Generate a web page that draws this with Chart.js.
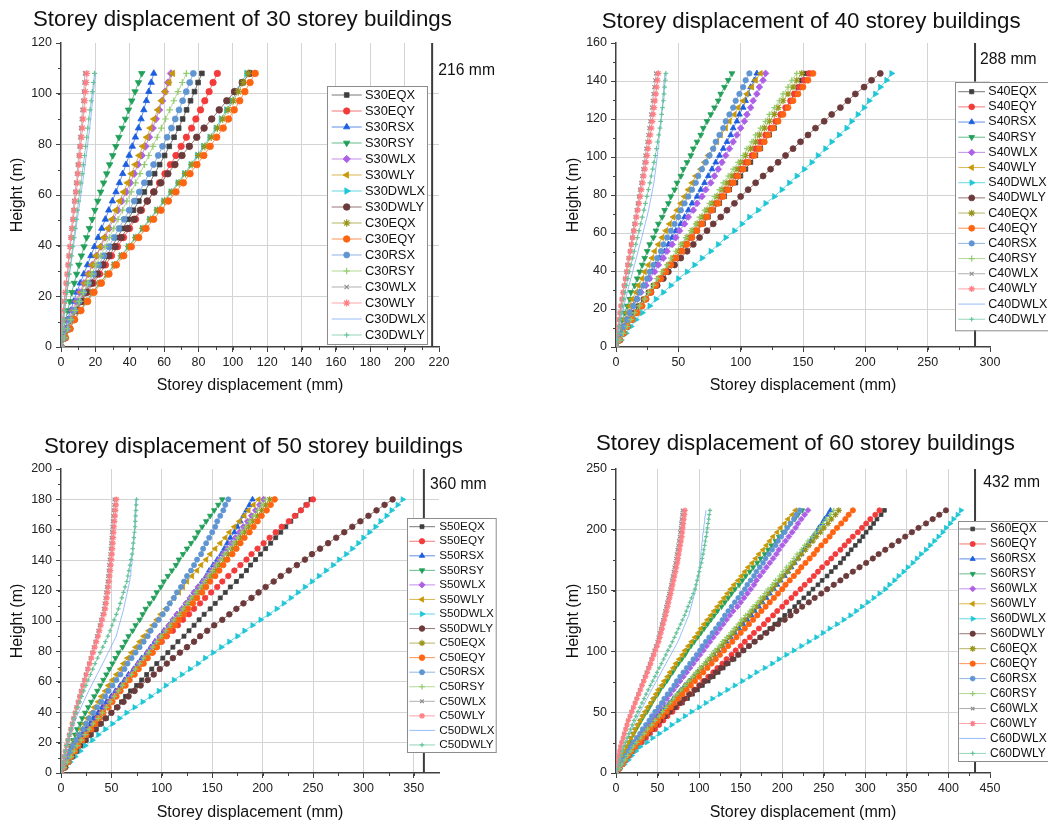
<!DOCTYPE html>
<html>
<head>
<meta charset="utf-8">
<script src="https://cdn.jsdelivr.net/npm/chart.js@4.4.1/dist/chart.umd.min.js"></script>
<style>
  html, body { margin: 0; padding: 0; background: #fff; }
  #wrap { position: relative; width: 1048px; height: 827px; overflow: hidden; }
  canvas { position: absolute; }
</style>
</head>
<body>
<div id="wrap">
  <canvas id="c30" width="524" height="410" style="left:0;top:0"></canvas>
  <canvas id="c40" width="524" height="410" style="left:524px;top:0"></canvas>
  <canvas id="c50" width="524" height="417" style="left:0;top:410px"></canvas>
  <canvas id="c60" width="524" height="417" style="left:524px;top:410px"></canvas>
</div>
<script>
// ---- data: storey heights (m) and storey displacements (mm) ----
const names30 = ['S30EQX','S30EQY','S30RSX','S30RSY','S30WLX','S30WLY','S30DWLX','S30DWLY','C30EQX','C30EQY','C30RSX','C30RSY','C30WLX','C30WLY','C30DWLX','C30DWLY'];
const names40 = ['S40EQX','S40EQY','S40RSX','S40RSY','S40WLX','S40WLY','S40DWLX','S40DWLY','C40EQX','C40EQY','C40RSX','C40RSY','C40WLX','C40WLY','C40DWLX','C40DWLY'];
const names50 = ['S50EQX','S50EQY','S50RSX','S50RSY','S50WLX','S50WLY','S50DWLX','S50DWLY','C50EQX','C50EQY','C50RSX','C50RSY','C50WLX','C50WLY','C50DWLX','C50DWLY'];
const names60 = ['S60EQX','S60EQY','S60RSX','S60RSY','S60WLX','S60WLY','S60DWLX','S60DWLY','C60EQX','C60EQY','C60RSX','C60RSY','C60WLX','C60WLY','C60DWLX','C60DWLY'];

// allowable drift limit (H/500) in mm
const limits = [216, 288, 360, 432];

const heights30 = [0,3.6,7.2,10.8,14.4,18,21.6,25.2,28.8,32.4,36,39.6,43.2,46.8,50.4,54,57.6,61.2,64.8,68.4,72,75.6,79.2,82.8,86.4,90,93.6,97.2,100.8,104.4,108];
const heights40 = [0,3.6,7.2,10.8,14.4,18,21.6,25.2,28.8,32.4,36,39.6,43.2,46.8,50.4,54,57.6,61.2,64.8,68.4,72,75.6,79.2,82.8,86.4,90,93.6,97.2,100.8,104.4,108,111.6,115.2,118.8,122.4,126,129.6,133.2,136.8,140.4,144];
const heights50 = [0,3.6,7.2,10.8,14.4,18,21.6,25.2,28.8,32.4,36,39.6,43.2,46.8,50.4,54,57.6,61.2,64.8,68.4,72,75.6,79.2,82.8,86.4,90,93.6,97.2,100.8,104.4,108,111.6,115.2,118.8,122.4,126,129.6,133.2,136.8,140.4,144,147.6,151.2,154.8,158.4,162,165.6,169.2,172.8,176.4,180];
const heights60 = [0,3.6,7.2,10.8,14.4,18,21.6,25.2,28.8,32.4,36,39.6,43.2,46.8,50.4,54,57.6,61.2,64.8,68.4,72,75.6,79.2,82.8,86.4,90,93.6,97.2,100.8,104.4,108,111.6,115.2,118.8,122.4,126,129.6,133.2,136.8,140.4,144,147.6,151.2,154.8,158.4,162,165.6,169.2,172.8,176.4,180,183.6,187.2,190.8,194.4,198,201.6,205.2,208.8,212.4,216];

// major tick labels of each axis
const xTicks30 = [0,20,40,60,80,100,120,140,160,180,200,220];
const yTicks30 = [0,20,40,60,80,100,120];
const xTicks40 = [0,50,100,150,200,250,300];
const yTicks40 = [0,20,40,60,80,100,120,140,160];
const xTicks50 = [0,50,100,150,200,250,300,350];
const yTicks50 = [0,20,40,60,80,100,120,140,160,180,200];
const xTicks60 = [0,50,100,150,200,250,300,350,400,450];
const yTicks60 = [0,50,100,150,200,250];

const disp30 = [
  [0,1.9,3.9,5.7,8.4,11.2,13.9,17.1,20.3,23.4,26.5,29.7,32.8,35.9,39.1,42.2,45.3,48.5,51.7,54.5,57.4,60.3,63,65.8,68.5,70.8,73.1,75.4,77.7,79.8,82],
  [0,2.1,4.3,6.4,9.4,12.5,15.5,18.9,22.5,25.9,29.4,32.9,36.4,39.9,43.4,46.9,50.3,53.9,57.3,60.5,63.7,66.9,69.9,73,76,78.5,81.2,83.7,86.2,88.5,91],
  [0,1.2,2.5,3.8,5.6,7.4,9.2,11.2,13.3,15.4,17.4,19.5,21.6,23.7,25.8,27.8,29.9,32,34,35.9,37.8,39.7,41.5,43.3,45.1,46.6,48.2,49.7,51.1,52.5,54],
  [0,0.9,1.7,2.6,3.9,5.1,6.3,7.7,9.1,10.4,11.9,13.4,14.9,16.5,18.1,19.7,21.4,23.1,24.8,26.6,28.3,30.1,31.9,33.7,35.6,37.5,39.3,41.2,43.1,45.1,47],
  [0,1.5,3,4.5,6.6,8.8,10.9,13.3,15.8,18.2,20.7,23.2,25.6,28,30.5,33,35.4,37.9,40.3,42.6,44.8,47,49.2,51.3,53.4,55.2,57.1,58.9,60.6,62.3,64],
  [0,1.8,3.4,5.2,7.3,9.6,11.7,13.8,16.1,18.2,20.5,22.8,25,27.3,29.6,31.9,34.1,36.4,38.7,41,43.2,45.5,47.6,49.9,52,54.1,56.4,58.5,60.6,62.9,65],
  [0,2.5,5.1,7.6,11.1,14.8,18.4,22.5,26.7,30.8,34.9,39.1,43.2,47.3,51.5,55.6,59.7,63.9,68,71.8,75.6,79.4,82.9,86.6,90.2,93.2,96.3,99.4,102.3,105.1,108],
  [0,2.1,4.1,6.2,9,11.9,14.7,17.9,21.2,24.4,27.9,31.5,35,38.7,42.5,46.2,50.2,54.1,58.1,62.2,66.3,70.4,74.7,79,83.3,87.7,92.1,96.5,101,105.5,110],
  [0,2.5,5.1,7.6,11.2,14.9,18.5,22.7,26.9,31.1,35.2,39.5,43.6,47.7,52,56.1,60.3,64.5,68.7,72.5,76.3,80.1,83.7,87.4,91,94.1,97.2,100.3,103.2,106.1,109],
  [0,2.6,5.3,7.9,11.6,15.5,19.2,23.5,27.9,32.2,36.5,40.9,45.2,49.5,53.9,58.2,62.5,66.9,71.2,75.1,79.1,83.1,86.8,90.6,94.4,97.5,100.8,104,107,110,113],
  [0,1.8,3.6,5.4,7.9,10.5,13.1,16,19,21.9,24.9,27.9,30.8,33.7,36.7,39.7,42.6,45.6,48.5,51.2,53.9,56.6,59.1,61.8,64.3,66.5,68.7,70.8,72.9,74.9,77],
  [0,2,3.9,5.8,8.2,10.7,13.1,15.5,18,20.4,23,25.6,28.1,30.7,33.2,35.8,38.3,40.9,43.4,46,48.5,51.1,53.5,56,58.4,60.8,63.3,65.7,68.1,70.6,73],
  [0,0.3,0.7,1,1.4,1.9,2.4,2.9,3.5,4,4.5,5.1,5.6,6.1,6.7,7.2,7.7,8.3,8.8,9.3,9.8,10.3,10.8,11.2,11.7,12.1,12.5,12.9,13.3,13.6,14],
  [0,0.3,0.7,1.1,1.5,2.1,2.6,3.1,3.7,4.3,4.8,5.4,6,6.6,7.2,7.7,8.3,8.9,9.5,10,10.5,11,11.5,12,12.5,12.9,13.4,13.8,14.2,14.6,15],
  [0,0.5,0.9,1.4,2.1,2.7,3.4,4.2,4.9,5.7,6.5,7.2,8,8.8,9.5,10.3,11.1,11.8,12.6,13.3,14,14.7,15.4,16,16.7,17.3,17.8,18.4,18.9,19.5,20],
  [0,0.5,1,1.6,2.2,2.9,3.5,4.2,4.8,5.5,6.1,6.8,7.5,8.2,8.9,9.6,10.2,10.9,11.6,12.3,13,13.7,14.3,15,15.6,16.2,16.9,17.6,18.2,18.9,19.5]
];

const disp40 = [
  [0,3,5,8,11,14,18,22,26,30,35,39,43,48,52,56,61,65,70,74,78,83,87,91,96,100,104,108,112,116,119,123,127,130,133,137,140,143,146,149,152],
  [0,3,6,9,12,16,20,24,28,32,36,40,43,47,52,56,60,64,68,72,76,80,84,88,92,96,100,104,109,112,116,120,124,128,132,136,140,143,147,151,155],
  [0,2,4,6,8,11,14,16,19,22,26,29,32,35,39,42,45,48,52,55,58,61,65,68,71,74,77,80,83,86,89,92,94,97,99,102,104,106,108,111,113],
  [0,1,3,4,5,7,9,11,12,15,17,19,21,23,25,27,30,32,34,37,39,42,44,47,49,52,54,57,60,62,65,68,70,73,76,79,82,84,87,90,93],
  [0,2,4,6,8,11,14,17,20,24,27,31,34,38,41,45,48,51,55,58,62,65,69,72,76,79,82,85,88,91,94,97,100,103,105,108,110,113,115,118,120],
  [0,2,3,5,7,9,11,13,16,18,21,23,26,29,31,34,37,40,43,46,49,52,55,58,61,64,68,71,74,78,81,84,88,91,95,98,102,105,109,112,116],
  [0,4,8,12,16,21,27,32,38,44,50,57,63,69,76,82,88,95,101,107,114,120,127,133,139,145,151,157,162,168,173,179,185,189,194,199,203,208,212,217,221],
  [0,3,6,9,12,16,20,24,28,33,38,42,47,52,57,62,67,73,78,84,89,95,100,106,112,118,124,130,136,142,148,154,160,167,173,180,186,192,199,205,212],
  [0,3,6,9,12,16,19,23,27,31,34,38,42,46,50,53,57,61,65,69,73,77,81,85,89,93,97,100,104,108,112,115,119,123,127,130,134,138,142,145,149],
  [0,3,6,9,13,17,21,24,28,32,36,40,44,48,53,57,61,65,69,73,77,82,86,90,94,98,102,106,111,115,119,122,126,130,134,138,142,146,150,154,158],
  [0,2,4,6,9,11,14,17,19,22,25,27,30,33,36,38,41,44,47,50,52,55,58,61,64,66,69,72,75,78,80,83,86,88,91,94,96,99,102,104,107],
  [0,3,6,9,12,15,19,23,26,30,33,37,41,44,48,52,56,60,64,67,71,75,79,83,86,90,94,98,102,105,109,112,116,120,123,127,131,134,138,141,145],
  [0,0.6,1.1,1.7,2.2,3,3.8,4.6,5.4,6.4,7.3,8.2,9.1,10,11,11.9,12.8,13.7,14.6,15.6,16.5,17.4,18.3,19.2,20.2,21,21.8,22.7,23.5,24.3,25.1,25.9,26.7,27.4,28.1,28.8,29.4,30.1,30.7,31.4,32],
  [0,0.6,1.2,1.8,2.4,3.2,4.1,4.9,5.8,6.8,7.7,8.7,9.7,10.7,11.6,12.6,13.6,14.6,15.6,16.5,17.5,18.5,19.5,20.4,21.4,22.3,23.2,24.1,25,25.8,26.7,27.5,28.4,29.1,29.8,30.6,31.3,32,32.6,33.3,34],
  [0,1,2,2.9,3.9,5.2,6.4,7.7,9,10.5,11.9,13.4,14.8,16.3,17.7,19.2,20.7,22,23.4,24.8,26.1,27.2,28.3,29.4,30.4,31.1,31.8,32.5,33.2,33.7,34.3,34.9,35.5,36,36.5,37,37.4,37.8,38.2,38.6,39],
  [0,0.8,1.6,2.4,3.2,4.2,5.2,6.2,7.2,8.4,9.6,10.8,12,13.3,14.6,15.9,17.2,18.5,19.8,21.1,22.4,23.6,24.8,26,27.2,28.3,29.4,30.5,31.6,32.5,33.4,34.3,35.2,35.9,36.6,37.3,38,38.5,39,39.5,40]
];

const disp50 = [
  [0,4,8,12,16,20,25,30,35,40,45,50,55,60,64,69,75,80,85,90,95,101,106,111,116,122,127,132,137,142,148,153,158,163,168,174,179,184,188,193,198,203,208,213,218,223,228,233,238,243,248],
  [0,3,6,9,11,14,18,22,26,30,34,38,42,47,51,56,60,65,70,75,80,85,90,95,100,105,111,116,121,127,132,138,143,149,155,160,166,172,178,184,189,195,201,207,213,219,226,232,238,244,250],
  [0,3,5,8,11,13,17,21,25,29,32,37,41,45,50,54,59,63,67,72,76,80,85,89,93,98,102,107,111,115,120,124,128,132,136,140,144,147,151,155,159,162,165,168,172,175,178,181,184,187,190],
  [0,2,4,5,7,9,12,14,16,19,21,24,27,30,33,36,39,42,45,48,51,54,57,61,64,67,71,74,78,81,84,88,92,95,99,102,106,110,114,117,121,125,129,133,136,140,144,148,152,156,160],
  [0,3,6,10,13,16,20,24,28,32,36,40,44,48,52,56,61,65,69,73,77,82,86,90,94,98,103,107,111,115,120,124,128,132,136,141,145,149,153,157,161,165,169,173,177,181,185,189,193,197,201],
  [0,2,4,7,9,11,14,17,20,23,26,30,33,37,40,44,47,51,55,59,62,66,70,74,78,82,87,91,95,99,104,108,112,117,121,125,130,135,139,144,148,153,158,163,167,172,177,182,186,191,196],
  [0,5,9,14,19,24,31,37,44,51,58,65,73,81,89,97,104,112,120,128,136,143,151,159,167,175,182,190,198,206,214,221,228,235,242,249,256,263,270,276,283,289,295,300,306,312,317,323,328,334,339],
  [0,4,7,11,15,18,24,29,34,39,44,50,56,62,67,73,79,86,92,98,105,111,118,125,132,138,145,152,160,167,174,181,189,196,203,211,218,226,234,242,249,257,265,273,281,289,297,305,313,321,329],
  [0,3,7,10,13,17,21,25,29,33,37,41,46,50,54,58,62,67,71,75,80,84,88,93,97,101,106,110,115,119,123,128,132,136,141,145,149,153,157,162,166,170,174,178,182,186,190,195,199,203,207],
  [0,3,7,10,14,17,21,25,30,34,38,42,47,51,55,59,64,68,73,77,82,86,91,95,99,104,108,113,117,122,126,131,135,140,144,148,153,157,161,165,170,174,178,182,187,191,195,199,204,208,212],
  [0,2,5,7,9,12,15,18,22,25,28,32,36,40,44,47,51,55,59,63,66,70,74,78,82,86,89,93,97,101,105,108,112,115,119,122,125,129,132,135,139,141,144,147,150,153,155,158,161,163,166],
  [0,3,6,10,13,16,20,24,28,32,37,41,45,49,53,57,61,65,70,74,78,82,87,91,95,99,104,108,112,117,121,125,129,134,138,142,146,150,154,158,162,166,171,175,179,183,187,191,195,199,203],
  [0,1.1,2.1,3.2,4.2,5.3,6.7,8.1,9.4,10.8,12.2,13.7,15.2,16.6,18.1,19.6,21.2,22.8,24.4,26,27.6,29.2,30.7,32.3,33.9,35.5,36.9,38.3,39.6,41,42.4,43.1,43.9,44.6,45.4,46.1,46.6,47.2,47.7,48.2,48.8,49.2,49.6,50,50.5,50.9,51.3,51.7,52.2,52.6,53],
  [0,1.1,2.2,3.3,4.4,5.5,6.9,8.4,9.8,11.2,12.7,14.2,15.7,17.3,18.8,20.4,22,23.7,25.3,27,28.6,30.3,31.9,33.6,35.2,36.9,38.3,39.7,41.1,42.6,44,44.8,45.5,46.3,47.1,47.9,48.4,49,49.5,50.1,50.6,51,51.5,51.9,52.4,52.8,53.2,53.7,54.1,54.6,55],
  [0,1.2,2.4,3.6,4.7,5.9,7.7,9.5,11.2,13,14.8,17.3,19.8,22.3,24.9,27.4,30.2,33,35.8,38.6,41.4,44.1,46.8,49.4,52.1,54.8,56.2,57.7,59.2,60.7,62.2,63.3,64.5,65.7,66.9,68.1,68.7,69.3,69.9,70.4,71,71.4,71.8,72.2,72.5,72.9,73.1,73.3,73.6,73.8,74],
  [0,1.1,2.1,3.2,4.2,5.3,6.8,8.3,9.8,11.3,12.8,14.7,16.7,18.6,20.6,22.5,24.8,27,29.3,31.5,33.8,36.3,38.9,41.4,44,46.5,48.6,50.7,52.8,54.9,57,58.7,60.3,62,63.6,65.3,66.3,67.4,68.4,69.5,70.5,71.1,71.7,72.3,72.9,73.5,73.8,74.1,74.4,74.7,75]
];

const disp60 = [
  [0,4,8,11,15,19,23,28,33,39,44,50,55,61,67,73,80,86,92,98,104,111,117,123,129,135,142,148,154,160,166,173,179,185,191,197,203,209,215,220,226,232,237,243,248,254,259,264,270,274,279,283,288,293,297,301,306,310,314,319,323],
  [0,4,8,13,17,21,25,31,36,41,47,52,57,62,68,73,78,83,89,94,100,105,111,117,122,128,133,139,144,150,155,161,166,172,178,183,189,194,200,205,211,216,222,227,233,238,243,248,254,259,264,270,275,280,285,291,296,301,306,312,317],
  [0,3,6,9,12,15,18,22,27,31,35,40,44,49,54,59,64,69,74,78,83,88,93,98,103,108,113,118,123,128,133,138,143,148,153,158,163,167,172,176,181,185,190,194,198,203,207,211,215,219,223,226,230,234,237,241,244,248,251,255,258],
  [0,2,4,6,8,10,13,16,18,21,24,27,30,33,37,40,43,46,50,53,57,61,64,68,71,75,79,83,86,90,94,98,102,106,110,114,118,122,127,131,135,139,143,148,152,156,161,165,170,174,179,183,187,192,196,201,206,210,215,219,224],
  [0,3,6,9,12,15,18,22,26,30,34,38,42,45,49,53,57,61,65,69,73,77,81,85,89,93,97,101,105,109,113,117,121,125,129,133,137,141,146,150,154,158,162,166,169,173,177,181,185,189,193,196,200,204,208,212,216,219,223,227,231],
  [0,2,4,6,8,10,12,15,18,21,23,26,29,32,35,38,42,45,48,51,55,58,62,65,69,72,76,80,83,87,91,95,99,102,106,110,114,118,122,126,130,134,138,142,147,151,155,159,164,168,172,177,181,185,189,194,198,203,207,212,216],
  [0,5,10,15,19,24,29,37,44,52,60,67,75,83,91,100,108,116,125,134,143,152,161,169,179,188,196,205,214,223,232,241,249,257,266,274,282,289,296,303,310,317,324,329,335,340,346,351,357,362,367,373,378,383,388,393,397,402,406,411,415],
  [0,4,7,11,15,19,22,27,33,38,43,48,53,59,65,71,77,82,88,95,101,107,114,120,126,133,140,147,153,160,167,174,181,188,195,203,210,217,224,232,239,247,254,262,270,277,285,293,301,309,316,324,332,340,348,356,364,373,381,389,397],
  [0,4,7,11,14,18,21,26,30,35,39,44,48,53,57,62,66,71,75,80,84,89,94,99,103,108,113,117,122,127,131,136,141,145,150,155,160,164,169,174,178,183,188,192,197,201,206,210,214,219,223,228,232,237,241,246,250,255,259,264,268],
  [0,4,8,11,15,19,23,28,32,37,42,47,51,56,61,66,70,75,80,85,90,95,100,105,110,115,120,125,130,135,140,145,150,155,160,165,170,175,180,185,190,195,200,204,209,214,219,223,228,233,238,242,247,252,257,261,266,271,276,280,285],
  [0,3,6,9,12,15,18,21,25,29,32,36,40,43,47,51,55,58,62,66,70,73,77,81,85,89,93,97,101,104,108,112,116,120,124,128,131,135,139,143,147,151,155,158,162,166,169,173,177,180,184,188,192,195,199,203,206,210,214,217,221],
  [0,4,7,11,14,18,21,25,30,34,38,43,47,52,56,60,65,69,73,78,83,87,92,96,101,106,110,115,119,124,128,133,138,142,147,151,156,161,165,170,174,179,183,188,192,197,201,205,210,214,218,223,227,231,236,240,245,249,253,258,262],
  [0,0.9,1.7,2.6,3.5,4.3,5.2,6.7,8.3,9.8,11.3,12.9,14.4,16.4,18.4,20.4,22.4,24.4,26.4,28.4,30.4,32.4,34.4,36.4,38.4,40.3,42.1,44,45.9,47.7,49.6,50.9,52.3,53.6,54.9,56.3,57.6,58.8,60,61.2,62.4,63.6,64.8,65.9,66.9,68,69.1,70.1,71.2,72.1,72.9,73.8,74.7,75.5,76.4,77,77.6,78.2,78.8,79.4,80],
  [0,0.9,1.8,2.7,3.6,4.5,5.4,7,8.6,10.2,11.8,13.3,14.9,17,19.1,21.2,23.2,25.3,27.4,29.5,31.5,33.6,35.7,37.8,39.8,41.8,43.7,45.7,47.6,49.5,51.5,52.8,54.2,55.6,57,58.4,59.8,61,62.3,63.5,64.7,66,67.2,68.3,69.4,70.6,71.7,72.8,73.9,74.8,75.7,76.6,77.5,78.4,79.3,79.9,80.5,81.1,81.8,82.4,83],
  [0,1.6,3.2,4.9,6.5,8.1,9.7,12.1,14.4,16.7,19.1,21.4,23.8,26.5,29.2,31.9,34.6,37.3,40,42.8,45.7,48.6,51.5,54.4,57.2,60.1,63,65.9,68.8,71.6,74.5,76.7,78.8,81,83.2,85.3,87.5,88.9,90.4,91.8,93.2,94.7,96.1,96.9,97.7,98.6,99.4,100.2,101,101.5,102.1,102.6,103.1,103.7,104.2,104.8,105.5,106.1,106.7,107.4,108],
  [0,1.5,3,4.5,6,7.5,9,11.1,13.2,15.3,17.3,19.4,21.5,23.9,26.4,28.8,31.3,33.7,36.2,38.8,41.4,44.1,46.7,49.3,52,54.6,57.3,59.9,62.5,65.2,67.8,70.3,72.7,75.1,77.6,80,82.5,84.6,86.6,88.7,90.8,92.9,94.9,96.2,97.6,98.9,100.2,101.5,102.8,103.8,104.7,105.7,106.6,107.5,108.5,109.2,110,110.7,111.5,112.2,113]
];

// ---- series styling (Origin-like palette) ----
const FONT = '"Liberation Sans", Arial, Helvetica, sans-serif';
const colors = ['#3f3f3f','#f23b3b','#1c5ee0','#22a05a','#ad5fe6','#c99806','#1fc6d6','#6c3a3a','#98951c','#ff6412','#5f95d3','#92cb6b','#8e8e8e','#ff7f86','#6f9ff5','#66c39b'];
const shapes = ['rect','circle','triangle','triangle','rectRot','triangle','triangle','circle','star','circle','circle','cross','crossRot','star','circle','cross'];
const rots   = [0,0,0,180,0,-90,90,0,0,0,0,0,0,0,0,0];
const radii  = [3.3,3.2,3.7,3.7,3.7,3.7,3.7,3.3,3.8,3.3,3.0,3.3,3.0,3.5,0,2.6];
const strokeOnly = [false,false,false,false,false,false,false,false,true,false,false,true,true,true,false,true];

function fade(hex, a) {
  const n = parseInt(hex.slice(1), 16);
  return `rgba(${(n >> 16) & 255},${(n >> 8) & 255},${n & 255},${a})`;
}

// draws title, minor ticks, drift-limit line with label and the Origin-style legend
const decor = {
  id: 'decor',
  afterDraw(chart, args, o) {
    const ctx = chart.ctx;
    const a = chart.chartArea;
    const xs = chart.scales.x, ys = chart.scales.y;
    ctx.save();

    // minor ticks
    ctx.strokeStyle = '#404040';
    ctx.lineWidth = 1;
    ctx.beginPath();
    for (let v = o.xMinor; v < xs.max - 0.01; v += o.xMinor) {
      const px = Math.round(xs.getPixelForValue(v)) + 0.5;
      ctx.moveTo(px, a.bottom); ctx.lineTo(px, a.bottom + 3);
    }
    for (let v = o.yMinor; v < ys.max - 0.01; v += o.yMinor) {
      const py = Math.round(ys.getPixelForValue(v)) + 0.5;
      ctx.moveTo(a.left, py); ctx.lineTo(a.left - 3, py);
    }
    ctx.stroke();

    // limit line
    const lx = xs.getPixelForValue(o.limit);
    ctx.strokeStyle = '#3c3c3c';
    ctx.lineWidth = 2;
    ctx.beginPath();
    ctx.moveTo(lx, a.bottom); ctx.lineTo(lx, a.top);
    ctx.stroke();
    ctx.fillStyle = '#111';
    ctx.font = '15.7px ' + FONT;
    ctx.textAlign = 'left';
    ctx.textBaseline = 'alphabetic';
    ctx.fillText(o.limit + ' mm', o.limX, o.limY);

    // title
    ctx.font = '22.3px ' + FONT;
    ctx.fillText(o.title, o.titleX, o.titleY);

    // legend
    const L = o.legend;
    ctx.fillStyle = '#fff';
    ctx.fillRect(L.x, L.y, L.w, L.h);
    ctx.strokeStyle = '#8c8c8c';
    ctx.lineWidth = 1;
    ctx.strokeRect(Math.round(L.x) + 0.5, Math.round(L.y) + 0.5, L.w, L.h);
    ctx.font = L.font + 'px ' + FONT;
    ctx.textBaseline = 'middle';
    chart.data.datasets.forEach((ds, i) => {
      const y = L.y0 + i * L.step;
      ctx.strokeStyle = ds.borderColor;
      ctx.lineWidth = 1;
      ctx.beginPath();
      ctx.moveTo(L.l0, y); ctx.lineTo(L.l1, y);
      ctx.stroke();
      if (ds.pointRadius > 0) {
        ctx.fillStyle = ds.pointBackgroundColor;
        ctx.strokeStyle = ds.pointBorderColor;
        ctx.lineWidth = ds.pointBorderWidth;
        Chart.helpers.drawPoint(ctx, {
          pointStyle: ds.pointStyle, rotation: ds.pointRotation,
          radius: ds.pointRadius, borderWidth: ds.pointBorderWidth
        }, L.mx, y);
      }
      ctx.fillStyle = '#111';
      ctx.fillText(ds.label, L.tx, y);
    });
    ctx.restore();
  }
};

function makeChart(P) {
  const datasets = P.names.map((name, i) => ({
    label: name,
    data: P.heights.map((h, k) => ({ x: P.disp[i][k], y: h })),
    showLine: true,
    borderColor: fade(colors[i], 0.7),
    borderWidth: 1,
    pointStyle: shapes[i],
    pointRotation: rots[i],
    pointRadius: radii[i] * P.mark,
    pointBackgroundColor: colors[i],
    pointBorderColor: colors[i],
    pointBorderWidth: strokeOnly[i] ? 1.2 : 0.8,
    fill: false,
    tension: 0,
    order: P.names.length - i
  }));

  const gridCol = max => (c => (c.tick && c.tick.value > 0 && c.tick.value < max - 0.01) ? '#d3d3d3' : 'rgba(0,0,0,0)');
  const tickFont = { family: FONT, size: 12.5 };

  new Chart(document.getElementById(P.id), {
    type: 'scatter',
    data: { datasets },
    plugins: [decor],
    options: {
      responsive: false,
      animation: false,
      devicePixelRatio: 1,
      layout: { padding: { left: 0, top: P.top, right: P.right, bottom: 0 } },
      scales: {
        x: {
          type: 'linear', min: 0, max: P.xMax,
          ticks: { autoSkip: false, maxRotation: 0, color: '#222', font: tickFont, padding: 3 },
          afterBuildTicks: s => { s.ticks = P.xTicks.map(v => ({ value: v })); },
          grid: { color: gridCol(P.xMax), tickColor: '#404040', tickLength: 5, lineWidth: 1 },
          border: { color: '#404040', width: 1.5 },
          title: { display: true, text: 'Storey displacement (mm)', color: '#111',
                   font: { family: FONT, size: 16 }, padding: { top: 0, bottom: P.xTitlePad } },
          afterFit: s => { s.height = P.xAxisH; }
        },
        y: {
          type: 'linear', min: 0, max: P.yMax,
          ticks: { autoSkip: false, color: '#222', font: tickFont, padding: 4 },
          afterBuildTicks: s => { s.ticks = P.yTicks.map(v => ({ value: v })); },
          grid: { color: gridCol(P.yMax), tickColor: '#404040', tickLength: 5, lineWidth: 1 },
          border: { color: '#404040', width: 1.5 },
          title: { display: true, text: 'Height (m)', color: '#111',
                   font: { family: FONT, size: 16 }, padding: { top: P.yTitlePad, bottom: 0 } },
          afterFit: s => { s.width = P.yAxisW; }
        }
      },
      plugins: {
        legend: { display: false },
        tooltip: { enabled: false },
        decor: {
          title: P.title, titleX: P.titleX, titleY: P.titleY,
          limit: P.limit, limX: P.limX, limY: P.limY,
          xMinor: P.xMinor, yMinor: P.yMinor,
          legend: P.legend
        }
      }
    }
  });
}

makeChart({
  id: 'c30', names: names30, heights: heights30, disp: disp30, limit: limits[0], mark: 1,
  top: 43, right: 85, xAxisH: 63, yAxisW: 61, xTitlePad: 14.4, yTitlePad: 8.4,
  xMax: 220, xTicks: xTicks30, xMinor: 10, yMax: 120, yTicks: yTicks30, yMinor: 10,
  title: 'Storey displacement of 30 storey buildings', titleX: 33, titleY: 26,
  limX: 438.3, limY: 75,
  legend: { x: 327.3, y: 86, w: 100, h: 258, y0: 95, step: 16, l0: 331.7, l1: 361.7, mx: 346.7, tx: 365, font: 12.85 }
});

makeChart({
  id: 'c40', names: names40, heights: heights40, disp: disp40, limit: limits[1], mark: 0.9,
  top: 43, right: 58, xAxisH: 63, yAxisW: 92, xTitlePad: 14.4, yTitlePad: 39.7,
  xMax: 300, xTicks: xTicks40, xMinor: 25, yMax: 160, yTicks: yTicks40, yMinor: 10,
  title: 'Storey displacement of 40 storey buildings', titleX: 77.7, titleY: 28.3,
  limX: 456, limY: 64,
  legend: { x: 431, y: 81.7, w: 120, h: 248.3, y0: 91.7, step: 15.17, l0: 434.3, l1: 461, mx: 447.7, tx: 464.3, font: 12.5 }
});

makeChart({
  id: 'c50', names: names50, heights: heights50, disp: disp50, limit: limits[2], mark: 0.85,
  top: 59, right: 85, xAxisH: 54, yAxisW: 61, xTitlePad: 4.4, yTitlePad: 8.4,
  xMax: 375, xTicks: xTicks50, xMinor: 25, yMax: 200, yTicks: yTicks50, yMinor: 10,
  title: 'Storey displacement of 50 storey buildings', titleX: 44, titleY: 42.7,
  limX: 430, limY: 79,
  legend: { x: 407.3, y: 108.3, w: 88.7, h: 234, y0: 116.7, step: 14.55, l0: 409.3, l1: 435, mx: 422, tx: 439.3, font: 11.7 }
});

makeChart({
  id: 'c60', names: names60, heights: heights60, disp: disp60, limit: limits[3], mark: 0.8,
  top: 59, right: 58, xAxisH: 54, yAxisW: 92, xTitlePad: 4.4, yTitlePad: 39.7,
  xMax: 450, xTicks: xTicks60, xMinor: 25, yMax: 250, yTicks: yTicks60, yMinor: 25,
  title: 'Storey displacement of 60 storey buildings', titleX: 72, titleY: 40,
  limX: 459.3, limY: 76.7,
  legend: { x: 433.7, y: 111, w: 120, h: 240, y0: 119, step: 14.96, l0: 435.3, l1: 462, mx: 448.7, tx: 466, font: 12 }
});
</script>
</body>
</html>
